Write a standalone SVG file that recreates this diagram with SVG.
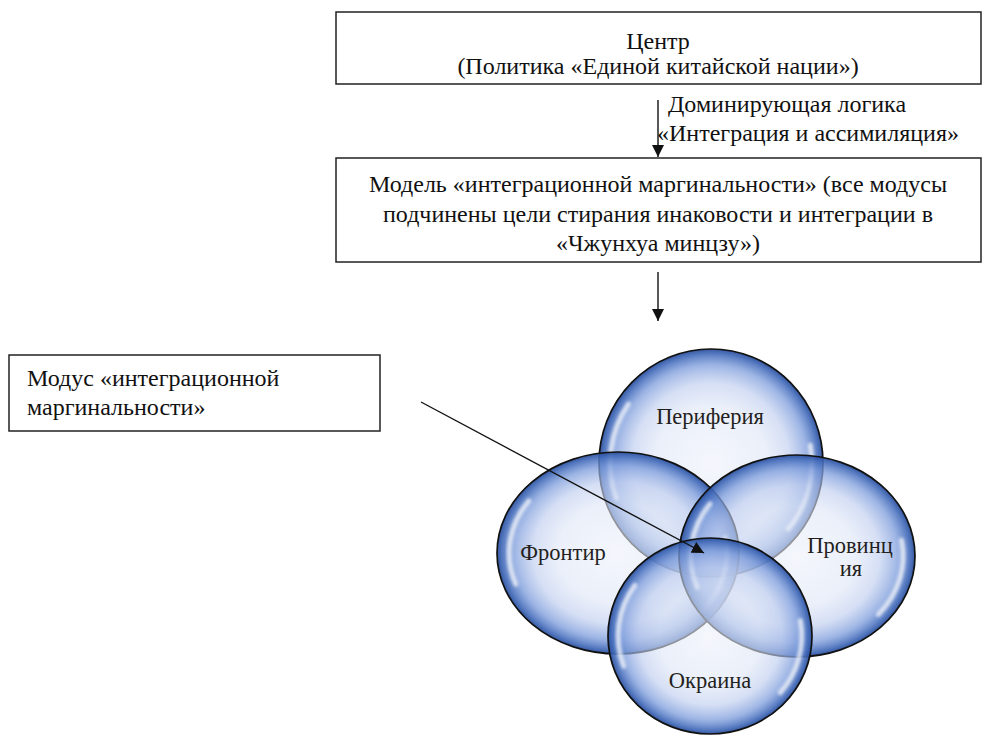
<svg xmlns="http://www.w3.org/2000/svg" width="984" height="737" viewBox="0 0 984 737">
<style>
.box{fill:#fff;stroke:#222;stroke-width:1.5}
.t{font-family:"Liberation Serif","Times New Roman",serif;font-size:24px;fill:#111}
.lbl{font-family:"Liberation Serif","Times New Roman",serif;font-size:22.5px;fill:#231f20;text-anchor:middle}
.conn{stroke:#111;stroke-width:1.4;fill:none}
.bub{fill:url(#bg);stroke:#111;stroke-width:1.7}
.hl{fill:none;stroke:#fff;stroke-width:5;stroke-linecap:round;opacity:0.7;filter:url(#blur)}
</style>
<defs>
<radialGradient id="bg" cx="0.5" cy="0.5" r="0.5">
<stop offset="0" stop-color="#edf1fa" stop-opacity="0.6"/>
<stop offset="0.5" stop-color="#dde5f6" stop-opacity="0.6"/>
<stop offset="0.7" stop-color="#bccbee" stop-opacity="0.62"/>
<stop offset="0.86" stop-color="#7b9bdb" stop-opacity="0.75"/>
<stop offset="0.96" stop-color="#4169b8" stop-opacity="0.9"/>
<stop offset="1" stop-color="#2a4f9c" stop-opacity="0.95"/>
</radialGradient>
<filter id="blur" x="-20%" y="-20%" width="140%" height="140%"><feGaussianBlur stdDeviation="1.8"/></filter>
<marker id="ah" viewBox="0 0 12 12" refX="12" refY="6" markerWidth="12" markerHeight="12" markerUnits="userSpaceOnUse" orient="auto">
<path d="M0,0 L12,6 L0,12 Z" fill="#111"/>
</marker>
</defs>

<g id="center">
<rect class="box" x="336" y="12" width="645" height="72"/>
<text class="t" x="658" y="49" text-anchor="middle">Центр</text>
<text class="t" x="658" y="74" text-anchor="middle">(Политика «Единой китайской нации»)</text>
</g>

<g id="model">
<rect class="box" x="336" y="158" width="645" height="104"/>
<text class="t" x="658" y="192" text-anchor="middle">Модель «интеграционной маргинальности» (все модусы</text>
<text class="t" x="658" y="222" text-anchor="middle">подчинены цели стирания инаковости и интеграции в</text>
<text class="t" x="658" y="251" text-anchor="middle">«Чжунхуа минцзу»)</text>
</g>

<g id="modus">
<rect class="box" x="9" y="355" width="371" height="76"/>
<text class="t" x="27" y="386">Модус «интеграционной</text>
<text class="t" x="27" y="415">маргинальности»</text>
</g>

<g id="bubbles">
<g id="periferiya">
<ellipse class="bub" cx="711" cy="463" rx="112" ry="114"/>
<path class="hl" d="M616.3 498.1 A100.8 102.6 0 0 1 628.4 404.1"/>
<path class="hl" d="M810.3 445.2 A100.8 102.6 0 0 1 788.2 529.0"/>
</g>
<g id="frontir">
<ellipse class="bub" cx="618" cy="553" rx="121" ry="101"/>
<path class="hl" d="M515.7 584.1 A108.9 90.9 0 0 1 528.8 500.8"/>
<path class="hl" d="M725.3 537.2 A108.9 90.9 0 0 1 701.4 611.4"/>
</g>
<g id="provinciya">
<ellipse class="bub" cx="797" cy="556" rx="118" ry="101"/>
<path class="hl" d="M697.2 587.1 A106.2 90.9 0 0 1 710.0 503.8"/>
<path class="hl" d="M901.6 540.2 A106.2 90.9 0 0 1 878.4 614.4"/>
</g>
<g id="okraina">
<ellipse class="bub" cx="710" cy="636" rx="102" ry="98"/>
<path class="hl" d="M623.7 666.2 A91.8 88.2 0 0 1 634.8 585.4"/>
<path class="hl" d="M800.4 620.7 A91.8 88.2 0 0 1 780.3 692.7"/>
</g>
<text class="lbl" x="710" y="424">Периферия</text>
<text class="lbl" x="563" y="560">Фронтир</text>
<text class="lbl" x="850" y="553">Провинц</text>
<text class="lbl" x="851" y="576">ия</text>
<text class="lbl" x="710" y="688">Окраина</text>
</g>

<g id="connectors">
<line class="conn" x1="658" y1="100" x2="658" y2="157" marker-end="url(#ah)"/>
<line class="conn" x1="658" y1="272" x2="658" y2="321" marker-end="url(#ah)"/>
<line class="conn" x1="421" y1="402" x2="704" y2="553" marker-end="url(#ah)"/>
<text class="t" x="668" y="112">Доминирующая логика</text>
<text class="t" x="657" y="141">«Интеграция и ассимиляция»</text>
</g>
</svg>
